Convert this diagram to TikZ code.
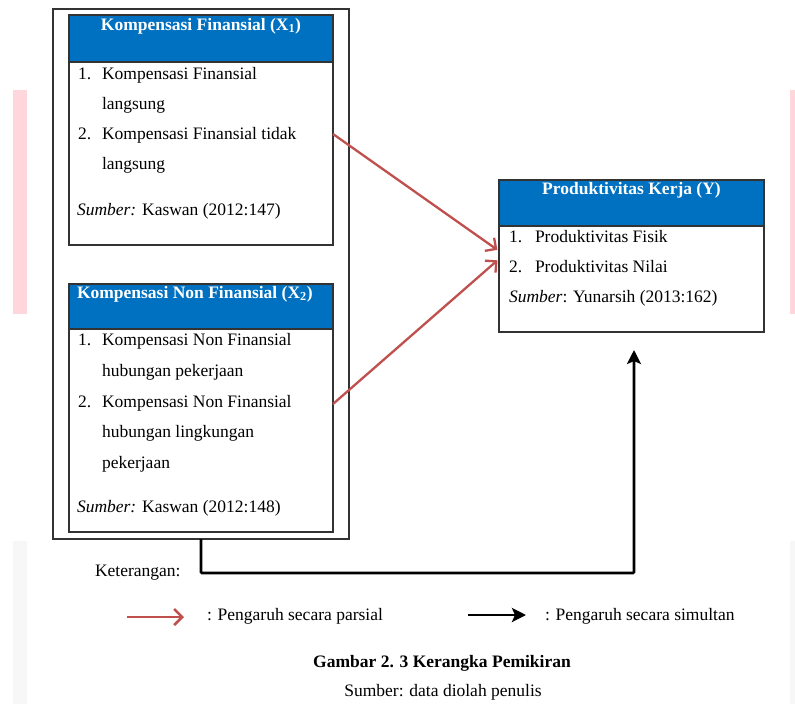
\documentclass[tikz,border=0pt]{standalone}
\usepackage{fontspec}
\setmainfont{Liberation Serif}
\usetikzlibrary{arrows.meta}
\definecolor{hdrblue}{HTML}{0070C0}
\definecolor{partred}{HTML}{C0504D}
\definecolor{framegray}{HTML}{333333}
\definecolor{marginpink}{HTML}{FFD6DC}
\definecolor{margingray}{HTML}{F7F7F7}
\begin{document}
\begin{tikzpicture}[x=1pt,y=-1pt,
  every node/.style={font=\fontsize{17.5}{21}\selectfont, inner sep=0pt, outer sep=0pt},
  frame/.style={draw=framegray, line width=1.2pt, anchor=north west},
  hdrbar/.style={fill=hdrblue, draw=framegray, line width=1.2pt, anchor=north west},
  hdrtext/.style={text=white, font=\fontsize{17.5}{21}\selectfont\bfseries},
  txt/.style={anchor=base west},
  parsial/.style={draw=partred, line width=2.3pt, -{Straight Barb[length=8pt,width=16pt]}},
  simultan/.style={draw=black, line width=2.6pt, -{Stealth[length=14pt,width=14pt,inset=3pt]}}]

% page and margin strips
\fill[white] (0,0) rectangle (795,704);
\useasboundingbox (0,0) rectangle (795,704);
\fill[marginpink] (13,90) rectangle (27,314);
\fill[marginpink] (790,90) rectangle (795,314);
\fill[margingray] (13,541) rectangle (27,704);
\fill[margingray] (790,541) rectangle (795,704);

% outer frame around both independent variables
\node[frame, minimum width=296pt, minimum height=530pt] (outer) at (53,9) {};

% X1 box
\node[frame, minimum width=264pt, minimum height=230pt] (x1) at (69,15) {};
\node[hdrbar, minimum width=264pt, minimum height=47pt] (x1h) at (69,15) {};
\node[hdrtext, anchor=base] (x1t) at (201,30) {Kompensasi Finansial (X\textsubscript{1})};
\node[txt] (x1n1) at (78,79) {1.};
\node[txt] (x1a) at (102,79) {Kompensasi Finansial};
\node[txt] (x1b) at (102,109) {langsung};
\node[txt] (x1n2) at (78,139) {2.};
\node[txt] (x1c) at (102,139) {Kompensasi Finansial tidak};
\node[txt] (x1d) at (102,169) {langsung};
\node[txt] (x1s) at (77,215) {\textit{Sumber:} Kaswan (2012:147)};

% X2 box
\node[frame, minimum width=264pt, minimum height=248pt] (x2) at (69,284) {};
\node[hdrbar, minimum width=264pt, minimum height=45pt] (x2h) at (69,284) {};
\node[hdrtext, anchor=base west] (x2t) at (77,298) {Kompensasi Non Finansial (X\textsubscript{2})};
\node[txt] (x2n1) at (78,345) {1.};
\node[txt] (x2a) at (102,345) {Kompensasi Non Finansial};
\node[txt] (x2b) at (102,376) {hubungan pekerjaan};
\node[txt] (x2n2) at (78,407) {2.};
\node[txt] (x2c) at (102,407) {Kompensasi Non Finansial};
\node[txt] (x2d) at (102,437) {hubungan lingkungan};
\node[txt] (x2e) at (102,468) {pekerjaan};
\node[txt] (x2s) at (77,512) {\textit{Sumber:} Kaswan (2012:148)};

% Y box
\node[frame, minimum width=265pt, minimum height=152pt] (yb) at (499,180) {};
\node[hdrbar, minimum width=265pt, minimum height=46pt] (ybh) at (499,180) {};
\node[hdrtext, anchor=base] (ybt) at (631.5,194) {Produktivitas Kerja (Y)};
\node[txt] (yn1) at (509,242) {1.};
\node[txt] (ya) at (535,242) {Produktivitas Fisik};
\node[txt] (yn2) at (509,272) {2.};
\node[txt] (yb2) at (535,272) {Produktivitas Nilai};
\node[txt] (ys) at (509,302) {\textit{Sumber}: Yunarsih (2013:162)};

% partial effects
\draw[parsial, shorten >=2pt] ([yshift=-4pt]x1.east) -- ([yshift=5pt]yb.west);
\draw[parsial, shorten >=2pt] ([yshift=4pt]x2.east) -- ([yshift=-3pt]yb.west);

% simultaneous effect
\coordinate (turn) at (634,573);
\draw[simultan, shorten >=18pt, rounded corners=1pt] (outer.south) |- (turn) -- (turn |- yb.south);

% legend
\node[txt] (ket) at (95,576) {Keterangan:};
\coordinate (lr1) at (127,617);
\coordinate (lr2) at (184,617);
\draw[parsial, line width=2.6pt] (lr1) -- (lr2);
\node[txt] (lrt) at (207,620) {: Pengaruh secara parsial};
\coordinate (lb1) at (468,615);
\coordinate (lb2) at (526,615);
\draw[simultan, line width=2.8pt] (lb1) -- (lb2);
\node[txt] (lbt) at (545,620) {: Pengaruh secara simultan};

% caption
\node[anchor=base, font=\fontsize{17.5}{21}\selectfont\bfseries] (cap) at (442,667) {Gambar 2. 3 Kerangka Pemikiran};
\node[anchor=base] (src) at (443,696) {Sumber: data diolah penulis};
\end{tikzpicture}
\end{document}
